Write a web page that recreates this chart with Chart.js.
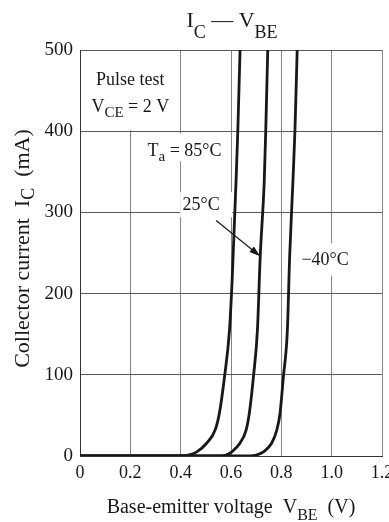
<!DOCTYPE html>
<html>
<head>
<meta charset="utf-8">
<title>IC - VBE</title>
<script src="https://cdn.jsdelivr.net/npm/chart.js@4/dist/chart.umd.min.js"></script>
<style>
  html, body { margin: 0; padding: 0; background: #fff; }
  #wrap { width: 389px; height: 522px; }
</style>
</head>
<body>
<div id="wrap"><canvas id="myChart" width="389" height="522"></canvas></div>
<script>
// values (V, mA)
var vbe85 = [0, 0.40, 0.43, 0.464, 0.504, 0.537, 0.554, 0.574, 0.594, 0.605, 0.620, 0.627, 0.636]
var ic85  = [0, 0,    1,    5,     16,    32,    53,    97,    155,   220,   338,   400,   500]

var vbe25 = [0, 0.557, 0.58, 0.603, 0.636, 0.660, 0.673, 0.689, 0.705, 0.716, 0.732, 0.738, 0.746]
var ic25  = [0, 0,     1,    5,     16,    32,    53,    97,    155,   245,   338,   400,   500]

var vbeM40 = [0, 0.676, 0.70, 0.729, 0.762, 0.782, 0.795, 0.808, 0.824, 0.833, 0.846, 0.854, 0.863]
var icM40  = [0, 0,     1,    5,     16,    32,    53,    97,    155,   245,   338,   400,   500]

var xTicks = [0, 0.2, 0.4, 0.6, 0.8, 1.0, 1.2]
var yTicks = [0, 100, 200, 300, 400, 500]

var SERIF = '"Liberation Serif", "DejaVu Serif", serif'
var INK = '#1a1718'

function toPoints(xs, ys) {
  var pts = []
  for (var i = 0; i < xs.length; i++) pts.push({ x: xs[i], y: ys[i] })
  return pts
}

function curve(label, xs, ys) {
  return {
    label: label,
    data: toPoints(xs, ys),
    showLine: true,
    borderColor: INK,
    borderWidth: 2.8,
    pointRadius: 0,
    cubicInterpolationMode: 'monotone'
  }
}

// draws text made of pieces, some of them subscripts
function drawRich(ctx, parts, x, y, size, subSize, drop, align) {
  var w = 0
  parts.forEach(function (p) {
    ctx.font = (p.sub ? subSize : size) + 'px ' + SERIF
    p.w = ctx.measureText(p.t).width
    w += p.w
  })
  var cx = align === 'center' ? x - w / 2 : (align === 'right' ? x - w : x)
  ctx.textAlign = 'left'
  ctx.textBaseline = 'alphabetic'
  ctx.fillStyle = INK
  parts.forEach(function (p) {
    ctx.font = (p.sub ? subSize : size) + 'px ' + SERIF
    ctx.fillText(p.t, cx, p.sub ? y + drop : y)
    cx += p.w
  })
  return w
}

// annotations: text centre (v) and baseline (i) in data units, optional white box
var notes = [
  { parts: [{ t: 'Pulse test' }], v: 0.2, i: 457 },
  { parts: [{ t: 'V' }, { t: 'CE', sub: true }, { t: ' = 2 V' }], v: 0.2, i: 424 },
  { parts: [{ t: 'T' }, { t: 'a', sub: true }, { t: ' = 85°C' }], v: 0.4155, i: 370, box: [0.26, 0.565, 397, 363] },
  { parts: [{ t: '25°C' }], v: 0.481, i: 303, box: [0.398, 0.605, 325, 294] },
  { parts: [{ t: '\u221240°C' }], v: 0.974, i: 235, box: [0.875, 1.07, 262, 222] }
]

var annotate = {
  id: 'annotate',
  beforeDatasetsDraw: function (chart) {
    var ctx = chart.ctx, xs = chart.scales.x, ys = chart.scales.y
    ctx.save()
    ctx.fillStyle = '#fff'
    // white block behind the test conditions
    ctx.fillRect(xs.getPixelForValue(0) + 1, ys.getPixelForValue(500) + 1,
      xs.getPixelForValue(0.4) - xs.getPixelForValue(0) - 2, ys.getPixelForValue(400) - ys.getPixelForValue(500) - 2)
    notes.forEach(function (n) {
      if (!n.box) return
      var l = xs.getPixelForValue(n.box[0]), r = xs.getPixelForValue(n.box[1])
      var t = ys.getPixelForValue(n.box[2]), b = ys.getPixelForValue(n.box[3])
      ctx.fillStyle = '#fff'
      ctx.fillRect(l, t, r - l, b - t)
    })
    notes.forEach(function (n) {
      drawRich(ctx, n.parts, xs.getPixelForValue(n.v), ys.getPixelForValue(n.i), 18, 15, 5, 'center')
    })
    // arrow to the 25°C curve
    var x1 = xs.getPixelForValue(0.541), y1 = ys.getPixelForValue(290)
    var x2 = xs.getPixelForValue(0.716), y2 = ys.getPixelForValue(246)
    var a = Math.atan2(y2 - y1, x2 - x1)
    ctx.strokeStyle = INK
    ctx.fillStyle = INK
    ctx.lineWidth = 1.2
    ctx.beginPath()
    ctx.moveTo(x1, y1)
    ctx.lineTo(x2 - 8 * Math.cos(a), y2 - 8 * Math.sin(a))
    ctx.stroke()
    ctx.beginPath()
    ctx.moveTo(x2, y2)
    ctx.lineTo(x2 - 11 * Math.cos(a) + 3.5 * Math.sin(a), y2 - 11 * Math.sin(a) - 3.5 * Math.cos(a))
    ctx.lineTo(x2 - 11 * Math.cos(a) - 3.5 * Math.sin(a), y2 - 11 * Math.sin(a) + 3.5 * Math.cos(a))
    ctx.closePath()
    ctx.fill()
    ctx.restore()
  },
  afterDraw: function (chart) {
    var ctx = chart.ctx, area = chart.chartArea
    var mid = (area.left + area.right) / 2
    ctx.save()
    // title
    drawRich(ctx, [{ t: 'I' }, { t: 'C', sub: true }, { t: ' \u2014 ' }, { t: 'V' }, { t: 'BE', sub: true }], mid + 1, 27, 22, 18, 11, 'center')
    // x axis title
    drawRich(ctx, [{ t: 'Base-emitter voltage  V' }, { t: 'BE', sub: true }, { t: '  (V)' }], mid, 513, 20, 16, 7, 'center')
    // y axis title
    ctx.translate(28.5, 248.5)
    ctx.rotate(-Math.PI / 2)
    drawRich(ctx, [{ t: 'Collector current  I' }, { t: 'C', sub: true }, { t: '  (mA)' }], 0, 0, 22, 18, 5, 'center')
    ctx.restore()
  }
}

var ctx = document.getElementById('myChart').getContext('2d')
var chart = new Chart(ctx, {
  type: 'scatter',
  data: {
    datasets: [
      curve('85°C', vbe85, ic85),
      curve('25°C', vbe25, ic25),
      curve('-40°C', vbeM40, icM40)
    ]
  },
  options: {
    responsive: false,
    animation: false,
    devicePixelRatio: 1,
    layout: { padding: { left: 0, right: 7, top: 50, bottom: 0 } },
    plugins: { legend: { display: false }, tooltip: { enabled: false } },
    scales: {
      x: {
        type: 'linear', min: 0, max: 1.2,
        afterBuildTicks: function (s) { s.ticks = xTicks.map(function (v) { return { value: v } }) },
        afterFit: function (s) { s.height = 66; s.paddingLeft = 0; s.paddingRight = 0 },
        ticks: {
          padding: 6, color: INK, font: { family: SERIF, size: 18 }, maxRotation: 0, autoSkip: false,
          callback: function (v) { return v === 0 ? '0' : v.toFixed(1) }
        },
        grid: { color: '#858585', lineWidth: 1, drawTicks: false },
        border: { color: '#333', width: 1 }
      },
      y: {
        type: 'linear', min: 0, max: 500,
        afterBuildTicks: function (s) { s.ticks = yTicks.map(function (v) { return { value: v } }) },
        afterFit: function (s) { s.width = 80; s.paddingTop = 0; s.paddingBottom = 0 },
        ticks: { padding: 7, color: INK, font: { family: SERIF, size: 19 } },
        grid: { color: '#5a5a5a', lineWidth: 1, drawTicks: false },
        border: { color: '#333', width: 1 }
      }
    }
  },
  plugins: [annotate]
})
</script>
</body>
</html>
